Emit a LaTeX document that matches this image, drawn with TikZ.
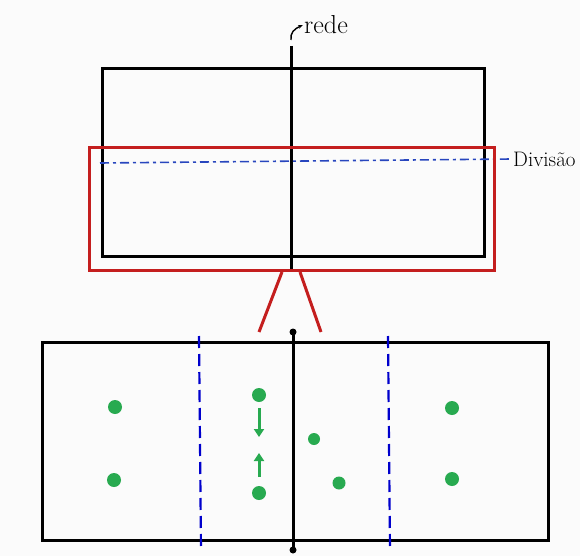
\documentclass[tikz,border=0pt]{standalone}
\usetikzlibrary{arrows.meta}
\definecolor{netred}{RGB}{196,30,30}
\definecolor{divblue}{RGB}{40,70,190}
\definecolor{dotgreen}{RGB}{40,170,80}
\definecolor{bg}{RGB}{251,251,251}
\tikzset{
  court/.style={line width=3pt, black},
  zoombox/.style={line width=3pt, netred},
  divline/.style={line width=1.6pt, divblue, dash pattern=on 9pt off 4pt on 3pt off 4pt},
  zoneline/.style={line width=2.2pt, blue!80!black, dash pattern=on 12pt off 6pt},
  player/.style={circle, fill=dotgreen, inner sep=0pt, minimum size=14pt},
  move/.style={line width=3pt, dotgreen, -{Triangle[length=8pt,width=10pt]}},
  lbl/.style={inner sep=1pt}
}
\begin{document}
\begin{tikzpicture}[x=1pt,y=-1pt]
\fill[bg] (0,0) rectangle (580,556);
\useasboundingbox (0,0) rectangle (580,556);
% top court
\coordinate (tl) at (102,69);
\coordinate (br) at (484,256);
\draw[court] (tl) rectangle (br);
% net top
\coordinate (netT) at (291,46);
\coordinate (netB) at (291,272);
\draw[court] (netT) -- (netB);
\node[lbl, anchor=west, font=\fontsize{26}{28}\selectfont] (rede) at (303,25) {rede};
\draw[line width=1.4pt, -{Stealth[length=5pt]}] (291,40) .. controls (290,33) and (294,29) .. (rede.west);
% division line
\node[lbl, anchor=west, font=\fontsize{21}{23}\selectfont] (div) at (512,159) {Divisão};
\coordinate (divL) at (100,163);
\draw[divline] (divL) -- (div.west);
% red zoom box
\coordinate (rtl) at (89,148);
\coordinate (rbr) at (494,270);
\draw[zoombox] (rtl) rectangle (rbr);
\coordinate (fl1) at (282,272);
\coordinate (fl2) at (259,332);
\coordinate (fr1) at (300,272);
\coordinate (fr2) at (321,332);
\draw[zoombox] (fl1) -- (fl2);
\draw[zoombox] (fr1) -- (fr2);
% bottom court
\coordinate (btl) at (42,342);
\coordinate (bbr) at (548,540);
\draw[court] (btl) rectangle (bbr);
\coordinate (bnT) at (293,332);
\coordinate (bnB) at (293,550);
\draw[court] (bnT) -- (bnB);
\fill (bnT) circle (3.5pt);
\fill (bnB) circle (3.5pt);
% attack zone lines
\coordinate (zl1) at (199,336);
\coordinate (zl2) at (201,550);
\coordinate (zr1) at (388,336);
\coordinate (zr2) at (390,550);
\draw[zoneline] (zl1) -- (zl2);
\draw[zoneline] (zr1) -- (zr2);
% players
\node[player] (p1) at (115,407) {};
\node[player] (p2) at (114,480) {};
\node[player] (p3) at (259,395) {};
\node[player] (p4) at (259,493) {};
\node[player, minimum size=12pt] (p5) at (314,439) {};
\node[player, minimum size=13pt] (p6) at (339,483) {};
\node[player] (p7) at (452,408) {};
\node[player] (p8) at (452,479) {};
% movements
\coordinate (a1) at (259,408);
\coordinate (a2) at (259,437);
\coordinate (b1) at (259,477);
\coordinate (b2) at (259,453);
\draw[move] (a1) -- (a2);
\draw[move] (b1) -- (b2);
\end{tikzpicture}
\end{document}
